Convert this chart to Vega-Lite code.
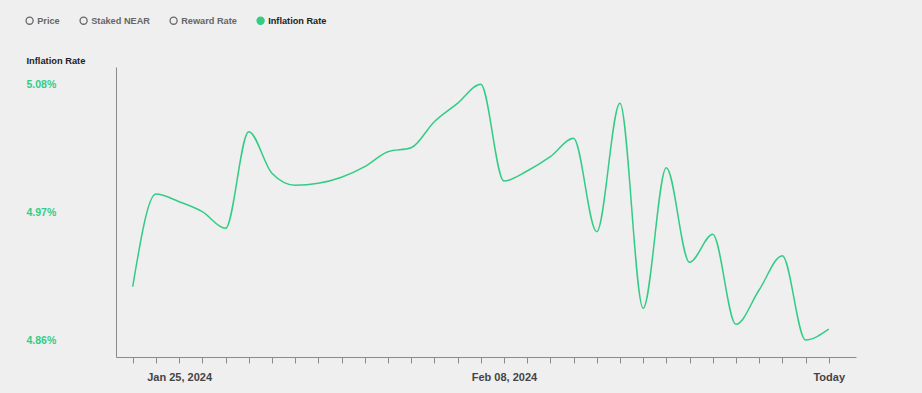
{
  "$schema": "https://vega.github.io/schema/vega-lite/v6.json",
  "autosize": {"type": "none"},
  "width": 740,
  "height": 290,
  "padding": {"left": 116, "top": 67, "right": 66, "bottom": 36},
  "background": "#efefef",
  "config": {
    "view": {"stroke": null},
    "font": "Liberation Sans"
  },
  "data": {
    "values": [
      {"date": "2024-01-23", "series": "Inflation Rate", "rate": 4.9061},
      {"date": "2024-01-24", "series": "Inflation Rate", "rate": 4.9857},
      {"date": "2024-01-25", "series": "Inflation Rate", "rate": 4.9791},
      {"date": "2024-01-26", "series": "Inflation Rate", "rate": 4.9705},
      {"date": "2024-01-27", "series": "Inflation Rate", "rate": 4.9562},
      {"date": "2024-01-28", "series": "Inflation Rate", "rate": 5.0393},
      {"date": "2024-01-29", "series": "Inflation Rate", "rate": 5.0035},
      {"date": "2024-01-30", "series": "Inflation Rate", "rate": 4.9932},
      {"date": "2024-01-31", "series": "Inflation Rate", "rate": 4.9949},
      {"date": "2024-02-01", "series": "Inflation Rate", "rate": 5.0001},
      {"date": "2024-02-02", "series": "Inflation Rate", "rate": 5.0092},
      {"date": "2024-02-03", "series": "Inflation Rate", "rate": 5.0221},
      {"date": "2024-02-04", "series": "Inflation Rate", "rate": 5.0255},
      {"date": "2024-02-05", "series": "Inflation Rate", "rate": 5.0479},
      {"date": "2024-02-06", "series": "Inflation Rate", "rate": 5.0637},
      {"date": "2024-02-07", "series": "Inflation Rate", "rate": 5.0800},
      {"date": "2024-02-08", "series": "Inflation Rate", "rate": 4.9969},
      {"date": "2024-02-09", "series": "Inflation Rate", "rate": 5.0055},
      {"date": "2024-02-10", "series": "Inflation Rate", "rate": 5.0178},
      {"date": "2024-02-11", "series": "Inflation Rate", "rate": 5.0336},
      {"date": "2024-02-12", "series": "Inflation Rate", "rate": 4.9533},
      {"date": "2024-02-13", "series": "Inflation Rate", "rate": 5.0637},
      {"date": "2024-02-14", "series": "Inflation Rate", "rate": 4.8875},
      {"date": "2024-02-15", "series": "Inflation Rate", "rate": 5.0083},
      {"date": "2024-02-16", "series": "Inflation Rate", "rate": 4.9270},
      {"date": "2024-02-17", "series": "Inflation Rate", "rate": 4.9511},
      {"date": "2024-02-18", "series": "Inflation Rate", "rate": 4.8737},
      {"date": "2024-02-19", "series": "Inflation Rate", "rate": 4.9032},
      {"date": "2024-02-20", "series": "Inflation Rate", "rate": 4.9327},
      {"date": "2024-02-21", "series": "Inflation Rate", "rate": 4.8603},
      {"date": "2024-02-22", "series": "Inflation Rate", "rate": 4.8695}
    ]
  },
  "mark": {"type": "line", "interpolate": "monotone", "strokeWidth": 1.5},
  "encoding": {
    "x": {
      "field": "date",
      "type": "temporal",
      "scale": {
        "type": "utc",
        "domain": [
          {"year": 2024, "month": 1, "date": 22, "hours": 6, "minutes": 43, "utc": true},
          {"year": 2024, "month": 2, "date": 23, "hours": 4, "minutes": 13, "utc": true}
        ]
      },
      "axis": {
        "title": null,
        "grid": false,
        "values": [
          {"year": 2024, "month": 1, "date": 23, "utc": true},
          {"year": 2024, "month": 1, "date": 24, "utc": true},
          {"year": 2024, "month": 1, "date": 25, "utc": true},
          {"year": 2024, "month": 1, "date": 26, "utc": true},
          {"year": 2024, "month": 1, "date": 27, "utc": true},
          {"year": 2024, "month": 1, "date": 28, "utc": true},
          {"year": 2024, "month": 1, "date": 29, "utc": true},
          {"year": 2024, "month": 1, "date": 30, "utc": true},
          {"year": 2024, "month": 1, "date": 31, "utc": true},
          {"year": 2024, "month": 2, "date": 1, "utc": true},
          {"year": 2024, "month": 2, "date": 2, "utc": true},
          {"year": 2024, "month": 2, "date": 3, "utc": true},
          {"year": 2024, "month": 2, "date": 4, "utc": true},
          {"year": 2024, "month": 2, "date": 5, "utc": true},
          {"year": 2024, "month": 2, "date": 6, "utc": true},
          {"year": 2024, "month": 2, "date": 7, "utc": true},
          {"year": 2024, "month": 2, "date": 8, "utc": true},
          {"year": 2024, "month": 2, "date": 9, "utc": true},
          {"year": 2024, "month": 2, "date": 10, "utc": true},
          {"year": 2024, "month": 2, "date": 11, "utc": true},
          {"year": 2024, "month": 2, "date": 12, "utc": true},
          {"year": 2024, "month": 2, "date": 13, "utc": true},
          {"year": 2024, "month": 2, "date": 14, "utc": true},
          {"year": 2024, "month": 2, "date": 15, "utc": true},
          {"year": 2024, "month": 2, "date": 16, "utc": true},
          {"year": 2024, "month": 2, "date": 17, "utc": true},
          {"year": 2024, "month": 2, "date": 18, "utc": true},
          {"year": 2024, "month": 2, "date": 19, "utc": true},
          {"year": 2024, "month": 2, "date": 20, "utc": true},
          {"year": 2024, "month": 2, "date": 21, "utc": true},
          {"year": 2024, "month": 2, "date": 22, "utc": true}
        ],
        "labelExpr": "utcFormat(datum.value, '%m-%d') === '01-25' ? 'Jan 25, 2024' : (utcFormat(datum.value, '%m-%d') === '02-08' ? 'Feb 08, 2024' : (utcFormat(datum.value, '%m-%d') === '02-22' ? 'Today' : ''))",
        "labelOverlap": false,
        "labelFont": "Liberation Sans",
        "labelFontSize": 11,
        "labelFontWeight": "bold",
        "labelColor": "#444444",
        "labelPadding": 8,
        "labelBaseline": "top",
        "tickSize": 6,
        "tickColor": "#8a8a8a",
        "domainColor": "#8a8a8a",
        "tickWidth": 1,
        "domainWidth": 1
      }
    },
    "y": {
      "field": "rate",
      "type": "quantitative",
      "scale": {"domain": [4.8456, 5.0949], "zero": false, "nice": false},
      "axis": {
        "title": "Inflation Rate",
        "titleAngle": 0,
        "titleAlign": "left",
        "titleBaseline": "middle",
        "titleX": -90,
        "titleY": -7,
        "titleFont": "Liberation Sans",
        "titleFontSize": 9.3,
        "titleFontWeight": "bold",
        "titleColor": "#222222",
        "grid": false,
        "ticks": false,
        "tickSize": 0,
        "values": [4.86, 4.97, 5.08],
        "labelExpr": "format(datum.value, '.2f') + '%'",
        "labelAlign": "left",
        "labelPadding": 90,
        "labelFont": "Liberation Sans",
        "labelFontSize": 10.5,
        "labelFontWeight": "bold",
        "labelColor": "#33cc85",
        "domainColor": "#8a8a8a",
        "domainWidth": 1
      }
    },
    "color": {
      "field": "series",
      "type": "nominal",
      "scale": {
        "domain": ["Price", "Staked NEAR", "Reward Rate", "Inflation Rate"],
        "range": ["#666666", "#666666", "#666666", "#33cc85"]
      },
      "legend": {
        "title": null,
        "orient": "none",
        "legendX": -91,
        "legendY": -51,
        "direction": "horizontal",
        "symbolType": "circle",
        "symbolSize": 50,
        "symbolStrokeWidth": 1.3,
        "labelFont": "Liberation Sans",
        "labelFontSize": 9.2,
        "labelFontWeight": "bold",
        "labelOffset": 3,
        "columnPadding": 17,
        "encode": {
          "symbols": {
            "update": {
              "fill": {"signal": "datum.value === 'Inflation Rate' ? '#33cc85' : 'transparent'"},
              "stroke": {"signal": "datum.value === 'Inflation Rate' ? '#33cc85' : '#666666'"},
              "opacity": {"value": 1}
            }
          },
          "labels": {
            "update": {
              "fill": {"signal": "datum.value === 'Inflation Rate' ? '#222222' : '#666666'"}
            }
          }
        }
      }
    }
  }
}
